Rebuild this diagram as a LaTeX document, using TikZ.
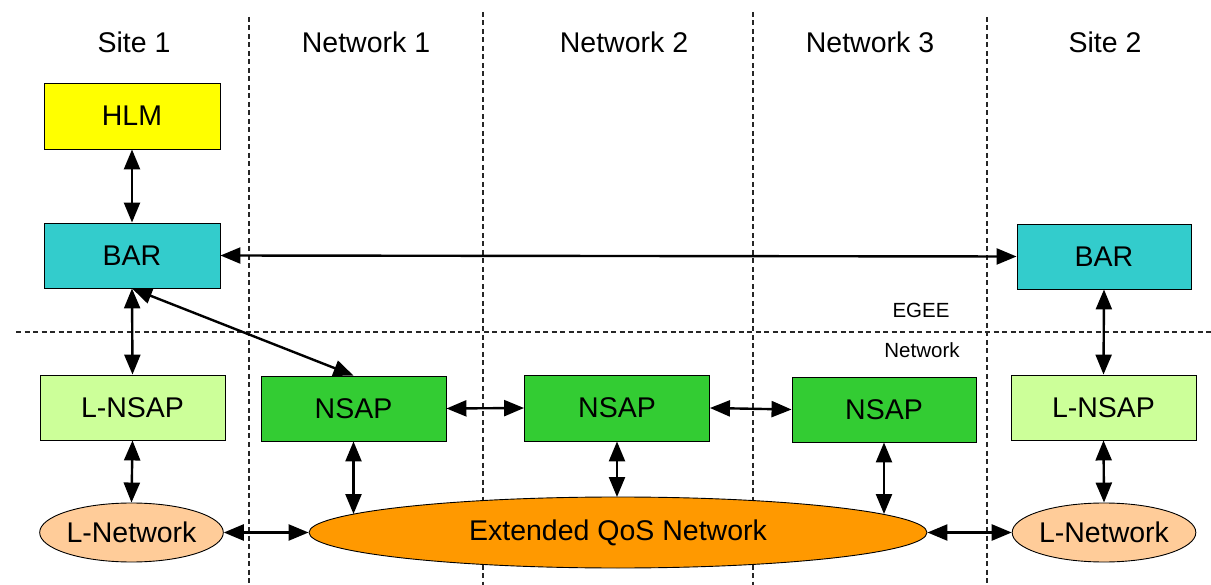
\documentclass[tikz,border=0pt]{standalone}
\usepackage{fontspec}
\setmainfont{Liberation Sans}
\usetikzlibrary{arrows.meta,shapes.geometric}
\definecolor{hlmc}{HTML}{FFFF00}
\definecolor{barc}{HTML}{33CCCC}
\definecolor{lnsapc}{HTML}{CCFF99}
\definecolor{nsapc}{HTML}{33CC33}
\definecolor{lnetc}{HTML}{FFCC99}
\definecolor{extc}{HTML}{FF9900}
\tikzset{
  box/.style={draw=black, line width=0.9pt, rectangle, inner sep=0pt, minimum width=#1, minimum height=65pt, font=\fontsize{28.5}{30}\selectfont},
  oval/.style={draw=black, line width=0.9pt, ellipse, inner sep=0pt, font=\fontsize{28.5}{30}\selectfont},
  hdr/.style={font=\fontsize{28.5}{30}\selectfont, inner sep=0pt},
  small/.style={font=\fontsize{20.5}{22}\selectfont, inner sep=0pt},
  sep/.style={dashed, dash pattern=on 5pt off 3.5pt, line width=1.1pt, draw=black!85},
  link/.style={line width=2.4pt, {Triangle[length=20pt,width=16pt]}-{Triangle[length=20pt,width=16pt]}}
}
\begin{document}
\begin{tikzpicture}[x=1pt,y=-1pt]
\useasboundingbox (0,0) rectangle (1211,585);
% separators
\draw[sep] (249,17) -- (249,585);
\draw[sep] (483,12) -- (483,585);
\draw[sep] (753,12) -- (753,585);
\draw[sep] (987,17) -- (987,585);
\draw[sep] (16,332) -- (1211,332);
% headers
\node[hdr] (h1) at (134,42) {Site 1};
\node[hdr] (h2) at (366,42) {Network 1};
\node[hdr] (h3) at (624,42) {Network 2};
\node[hdr] (h4) at (870,42) {Network 3};
\node[hdr] (h5) at (1105,42) {Site 2};
\node[small] (egee) at (921,310) {EGEE};
\node[small] (netl) at (922,350) {Network};
% boxes
\node[box=176pt, fill=hlmc, minimum height=66pt] (hlm) at (132,116) {HLM};
\node[box=176pt, fill=barc] (bar1) at (132,255.5) {BAR};
\node[box=174pt, fill=barc] (bar2) at (1104,256.5) {BAR};
\node[box=185pt, fill=lnsapc] (lnsap1) at (132.5,407.5) {L-NSAP};
\node[box=185pt, fill=nsapc] (nsap1) at (353.5,408.5) {NSAP};
\node[box=185pt, fill=nsapc, minimum height=66pt] (nsap2) at (617,408) {NSAP};
\node[box=184pt, fill=nsapc] (nsap3) at (884,409.5) {NSAP};
\node[box=185pt, fill=lnsapc] (lnsap2) at (1103.5,407.5) {L-NSAP};
\node[oval, fill=lnetc, minimum width=183pt, minimum height=59pt] (lnet1) at (131.5,532.5) {L-Network};
\node[oval, fill=lnetc, minimum width=182pt, minimum height=59pt] (lnet2) at (1104,532.5) {L-Network};
\node[oval, fill=extc, minimum width=618pt, minimum height=71pt] (ext) at (618,532.5) {Extended QoS Network};
\coordinate (e1) at (353.5,514);
\coordinate (e2) at (617,497);
\coordinate (e3) at (884,514);
% links
\draw[link] (hlm.south) -- (bar1.north);
\draw[link] (bar1.east) -- (bar2.west);
\draw[link] (bar1.south) -- (nsap1.north);
\draw[link] (bar1.south) -- (lnsap1.north);
\draw[link] (lnsap1.south) -- (lnet1.north);
\draw[link] (lnet1.east) -- (ext.west);
\draw[link] (nsap1.south) -- (e1);
\draw[link] (nsap1.east) -- (nsap2.west);
\draw[link] (nsap2.east) -- (nsap3.west);
\draw[link] (nsap2.south) -- (e2);
\draw[link] (nsap3.south) -- (e3);
\draw[link] (bar2.south) -- (lnsap2.north);
\draw[link] (lnsap2.south) -- (lnet2.north);
\draw[link] (ext.east) -- (lnet2.west);
\end{tikzpicture}
\end{document}
